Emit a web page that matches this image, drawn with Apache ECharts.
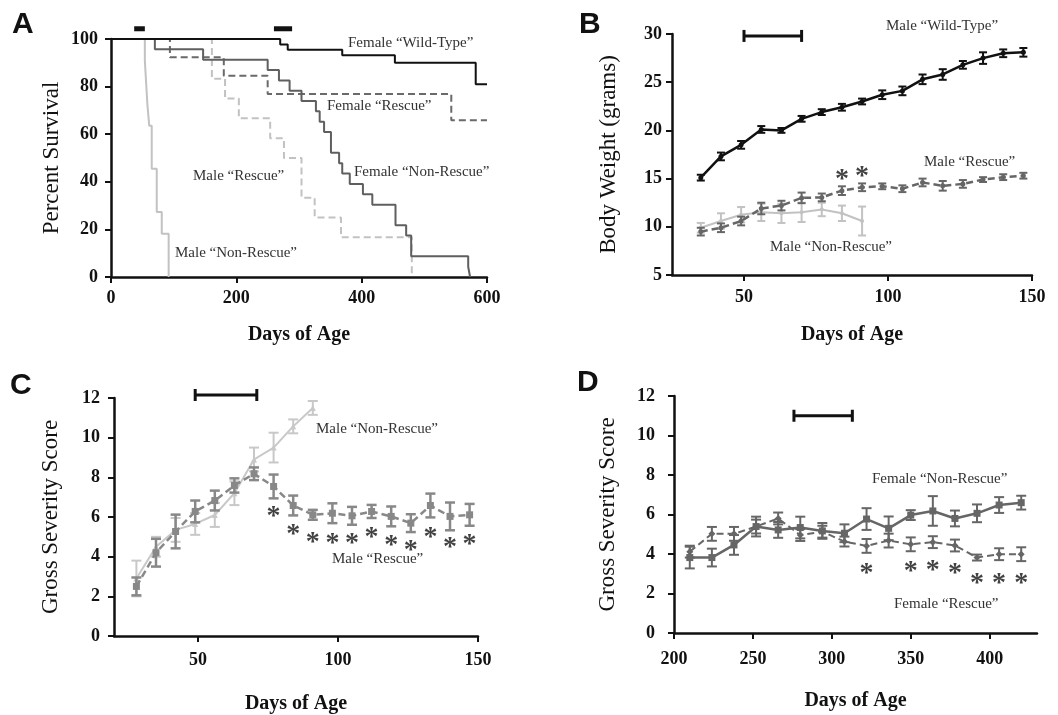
<!DOCTYPE html>
<html>
<head>
<meta charset="utf-8">
<script src="https://cdn.jsdelivr.net/npm/echarts@6/dist/echarts.min.js"></script>
<style>
  html, body { margin: 0; background: #fff; }
  #chart { width: 1058px; height: 715px; }
</style>
</head>
<body>
<div id="chart"></div>
<script>
// ---- Panel A: survival (day of each drop, percent surviving after it) ----
const femaleWtDays = [0, 270, 282, 369, 453, 582, 600]
const femaleWtPct = [100, 97.7, 95.5, 93.2, 90.0, 81.0, 81.0]
const femaleRescueDays = [0, 94, 180, 250, 543, 600]
const femaleRescuePct = [100, 92.3, 84.6, 76.9, 65.9, 65.9]
const femaleNonRescueDays = [0, 70, 147, 250, 268, 285, 304, 327, 333, 340, 351, 364, 369, 381, 402, 417, 454, 471, 479, 570, 573]
const femaleNonRescuePct = [100, 95.65, 91.3, 86.96, 82.6, 78.26, 73.9, 69.6, 65.2, 60.9, 52.2, 47.8, 43.5, 39.1, 34.8, 30.4, 21.7, 17.4, 8.7, 4.3, 0]
const maleRescueDays = [0, 161, 182, 204, 254, 276, 304, 325, 367, 480]
const maleRescuePct = [100, 83.3, 75, 66.7, 58.3, 50, 33.3, 25, 16.7, 0]
const maleNonRescueDays = [0, 54, 56, 58, 61, 65, 73, 81, 92]
const maleNonRescuePct = [100, 90.9, 81.8, 72.7, 63.6, 45.5, 27.3, 18.2, 0]
const treatmentBarsA = [[37, 54, 104.3], [260, 289, 104.3]]
const ticksA = [0, 200, 400, 600]

// ---- Panel B: body weight ----
const weightDays = [35, 42, 49, 56, 63, 70, 77, 84, 91, 98, 105, 112, 119, 126, 133, 140, 147]
const wtWeight = [15.1, 17.3, 18.5, 20.1, 20.0, 21.2, 21.9, 22.4, 23.0, 23.7, 24.1, 25.3, 25.8, 26.8, 27.5, 28.0, 28.1]
const wtWeightErr = [0.3, 0.4, 0.4, 0.35, 0.25, 0.3, 0.3, 0.35, 0.3, 0.45, 0.45, 0.5, 0.55, 0.4, 0.6, 0.4, 0.45]
const rescueWeight = [9.5, 9.9, 10.6, 11.9, 12.2, 13.0, 13.05, 13.75, 14.1, 14.2, 13.95, 14.6, 14.25, 14.45, 14.9, 15.15, 15.3]
const rescueWeightErr = [0.4, 0.45, 0.45, 0.6, 0.5, 0.55, 0.4, 0.45, 0.4, 0.3, 0.35, 0.4, 0.5, 0.4, 0.25, 0.3, 0.3]
const nonRescueWeightDays = [35, 42, 49, 56, 63, 70, 77, 84, 91]
const nonRescueWeight = [9.9, 10.6, 11.25, 11.5, 11.4, 11.5, 11.8, 11.4, 10.6]
const nonRescueWeightErr = [0.5, 0.8, 0.8, 0.9, 1.0, 1.0, 0.7, 0.8, 1.5]
const starDaysB = [84, 91]
const starYB = [15.6, 15.9]
const bracketB = [[50, 70, 29.8]]
const ticksB = [50, 100, 150]

// ---- Panel C: male gross severity ----
const maleScoreDays = [28, 35, 42, 49, 56, 63, 70, 77, 84, 91, 98, 105, 112, 119, 126, 133, 140, 147]
const maleRescueScore = [2.5, 4.2, 5.27, 6.28, 6.83, 7.59, 8.18, 7.54, 6.58, 6.11, 6.19, 6.06, 6.28, 6.03, 5.69, 6.58, 6.03, 6.11]
const maleRescueScoreErr = [0.45, 0.7, 0.85, 0.55, 0.5, 0.36, 0.32, 0.6, 0.5, 0.25, 0.5, 0.45, 0.33, 0.5, 0.45, 0.6, 0.7, 0.55]
const maleNonRescueDaysC = [28, 35, 42, 49, 56, 63, 70, 77, 84, 91]
const maleNonRescueScore = [2.9, 4.5, 5.35, 5.65, 6.1, 7.2, 8.9, 9.5, 10.57, 11.5]
const maleNonRescueScoreErr = [0.9, 0.5, 0.6, 0.55, 0.6, 0.6, 0.6, 0.75, 0.35, 0.35]
const starDaysC = [77, 84, 91, 98, 105, 112, 119, 126, 133, 140, 147]
const starYC = [6.36, 5.44, 5.07, 5.01, 4.98, 5.3, 4.88, 4.63, 5.3, 4.8, 4.93]
const bracketC = [[49, 71, 12.15]]
const ticksC = [50, 100, 150]

// ---- Panel D: female gross severity ----
const femaleScoreDays = [210, 224, 238, 252, 266, 280, 294, 308, 322, 336, 350, 364, 378, 392, 406, 420]
const femaleNonRescueScore = [3.82, 3.82, 4.46, 5.39, 5.22, 5.34, 5.17, 5.05, 5.77, 5.3, 5.97, 6.18, 5.8, 6.06, 6.48, 6.6]
const femaleNonRescueScoreErr = [0.55, 0.45, 0.5, 0.5, 0.4, 0.55, 0.4, 0.45, 0.55, 0.6, 0.25, 0.75, 0.4, 0.45, 0.4, 0.35]
const femaleRescueScore = [4.12, 5.02, 5.02, 5.39, 5.8, 4.96, 5.13, 4.63, 4.41, 4.68, 4.49, 4.6, 4.43, 3.82, 3.99, 3.99]
const femaleRescueScoreErr = [0.3, 0.35, 0.35, 0.35, 0.3, 0.3, 0.3, 0.25, 0.35, 0.35, 0.35, 0.3, 0.3, 0.15, 0.3, 0.35]
const starDaysD = [322, 350, 364, 378, 392, 406, 420]
const starYD = [3.37, 3.45, 3.5, 3.37, 2.86, 2.83, 2.86]
const bracketD = [[276, 313, 11.0]]
const ticksD = [200, 250, 300, 350, 400]

const SERIF = '"Liberation Serif", "DejaVu Serif", serif'
const SANS = '"Liberation Sans", Arial, sans-serif'
const BLACK = '#111'
const DARK = '#5f5f5f'
const LIGHT = '#c2c2c2'

const zip = (xs, ys) => xs.map((x, i) => [x, ys[i]])
const spans = (xs, ys, es) => xs.map((x, i) => [x, ys[i] - es[i], ys[i] + es[i]])

const valueAxis = (idx, min, max, interval, ticks, labelMargin, name, nameGap) => ({
  type: 'value',
  gridIndex: idx,
  min,
  max,
  interval,
  name,
  nameLocation: 'middle',
  nameGap,
  nameTextStyle: { fontFamily: SERIF, fontSize: 20, fontWeight: 'bold', color: BLACK },
  axisLine: { show: true, onZero: false, lineStyle: { color: BLACK, width: 2.5 } },
  axisTick: { show: true, length: 6, lineStyle: { color: BLACK, width: 2 }, customValues: ticks },
  axisLabel: { color: BLACK, fontFamily: SERIF, fontWeight: 'bold', fontSize: 18, margin: labelMargin, customValues: ticks },
  splitLine: { show: false }
})

const yAxisFor = (idx, min, max, interval, labelMargin, name, nameGap) => ({
  type: 'value',
  gridIndex: idx,
  min,
  max,
  interval,
  name,
  nameLocation: 'middle',
  nameRotate: 90,
  nameGap,
  nameTextStyle: { fontFamily: SERIF, fontSize: 23, color: BLACK },
  axisLine: { show: true, onZero: false, lineStyle: { color: BLACK, width: 2.5 } },
  axisTick: { show: true, length: 6, lineStyle: { color: BLACK, width: 2 } },
  axisLabel: { color: BLACK, fontFamily: SERIF, fontWeight: 'bold', fontSize: 18, margin: labelMargin },
  splitLine: { show: false }
})

const line = (idx, data, color, opts = {}) => ({
  type: 'line',
  xAxisIndex: idx,
  yAxisIndex: idx,
  data,
  step: opts.step || false,
  color,
  lineStyle: { color, width: opts.width || 2, type: opts.dash ? [7, 4] : 'solid' },
  symbol: opts.symbol || 'none',
  symbolSize: opts.size || 6,
  showSymbol: !!opts.symbol,
  itemStyle: { color },
  z: opts.z || 3,
  silent: true
})

// vertical error bars with short caps
const errorBars = (idx, data, color, cap = 4, width = 2, z = 3) => ({
  type: 'custom',
  xAxisIndex: idx,
  yAxisIndex: idx,
  data,
  encode: { x: 0, y: [1, 2] },
  z,
  silent: true,
  renderItem: (params, api) => {
    const x = api.value(0)
    const lo = api.coord([x, api.value(1)])
    const hi = api.coord([x, api.value(2)])
    const style = { stroke: color, lineWidth: width }
    return {
      type: 'group',
      children: [
        { type: 'line', shape: { x1: lo[0], y1: lo[1], x2: hi[0], y2: hi[1] }, style },
        { type: 'line', shape: { x1: lo[0] - cap, y1: lo[1], x2: lo[0] + cap, y2: lo[1] }, style },
        { type: 'line', shape: { x1: hi[0] - cap, y1: hi[1], x2: hi[0] + cap, y2: hi[1] }, style }
      ]
    }
  }
})

// treatment-window brackets (horizontal bar, optional end caps)
const brackets = (idx, data, cap, width) => ({
  type: 'custom',
  xAxisIndex: idx,
  yAxisIndex: idx,
  data,
  clip: false,
  silent: true,
  z: 5,
  renderItem: (params, api) => {
    const a = api.coord([api.value(0), api.value(2)])
    const b = api.coord([api.value(1), api.value(2)])
    const style = { stroke: BLACK, lineWidth: width }
    const children = [{ type: 'line', shape: { x1: a[0], y1: a[1], x2: b[0], y2: b[1] }, style }]
    if (cap) {
      children.push({ type: 'line', shape: { x1: a[0], y1: a[1] - cap, x2: a[0], y2: a[1] + cap }, style })
      children.push({ type: 'line', shape: { x1: b[0], y1: b[1] - cap, x2: b[0], y2: b[1] + cap }, style })
    }
    return { type: 'group', children }
  }
})

const stars = (idx, xs, ys) => ({
  type: 'scatter',
  xAxisIndex: idx,
  yAxisIndex: idx,
  data: zip(xs, ys),
  symbolSize: 1,
  itemStyle: { color: 'rgba(0,0,0,0)' },
  silent: true,
  z: 6,
  label: {
    show: true,
    position: 'inside',
    formatter: '*',
    color: BLACK,
    fontFamily: SERIF,
    fontWeight: 'bold',
    fontSize: 28,
    offset: [0, 7]
  }
})

const note = (x, y, text, color = '#333') => ({
  type: 'text',
  x,
  y,
  silent: true,
  style: { text, fill: color, font: '15px ' + SERIF, textAlign: 'left', textVerticalAlign: 'middle' }
})

const letter = (x, y, text) => ({
  type: 'text',
  x,
  y,
  silent: true,
  style: { text, fill: BLACK, font: 'bold 30px ' + SANS, textAlign: 'left', textVerticalAlign: 'top' }
})

const option = {
  animation: false,
  backgroundColor: '#fff',
  grid: [
    { left: 111, top: 39, width: 376, height: 238 },
    { left: 672, top: 34, width: 360, height: 241 },
    { left: 114, top: 398, width: 364, height: 238 },
    { left: 674, top: 396, width: 363, height: 237 }
  ],
  xAxis: [
    valueAxis(0, 0, 600, 200, ticksA, 12, 'Days of Age', 48),
    valueAxis(1, 25, 150, 25, ticksB, 13, 'Days of Age', 50),
    valueAxis(2, 20, 150, 10, ticksC, 15, 'Days of Age', 58),
    valueAxis(3, 200, 430, 10, ticksD, 17, 'Days of Age', 58)
  ],
  yAxis: [
    yAxisFor(0, 0, 100, 20, 13, 'Percent Survival', 48),
    yAxisFor(1, 5, 30, 5, 10, 'Body Weight (grams)', 52),
    yAxisFor(2, 0, 12, 2, 14, 'Gross Severity Score', 52),
    yAxisFor(3, 0, 12, 2, 19, 'Gross Severity Score', 55)
  ],
  series: [
    // A
    line(0, zip(maleNonRescueDays, maleNonRescuePct), LIGHT, { step: 'end', z: 2 }),
    line(0, zip(maleRescueDays, maleRescuePct), LIGHT, { step: 'end', dash: true, z: 2 }),
    line(0, zip(femaleRescueDays, femaleRescuePct), '#6a6a6a', { step: 'end', dash: true, z: 3 }),
    line(0, zip(femaleNonRescueDays, femaleNonRescuePct), DARK, { step: 'end', z: 3 }),
    line(0, zip(femaleWtDays, femaleWtPct), BLACK, { step: 'end', z: 4 }),
    brackets(0, treatmentBarsA, 0, 5),
    // B
    errorBars(1, spans(nonRescueWeightDays, nonRescueWeight, nonRescueWeightErr), LIGHT, 4, 2, 2),
    line(1, zip(nonRescueWeightDays, nonRescueWeight), LIGHT, { z: 2, symbol: 'circle', size: 4 }),
    errorBars(1, spans(weightDays, rescueWeight, rescueWeightErr), '#666', 4, 2, 3),
    line(1, zip(weightDays, rescueWeight), '#666', { dash: true, width: 2.5, z: 3, symbol: 'circle', size: 5 }),
    errorBars(1, spans(weightDays, wtWeight, wtWeightErr), BLACK, 4, 2, 4),
    line(1, zip(weightDays, wtWeight), BLACK, { width: 2.5, z: 4, symbol: 'circle', size: 5 }),
    stars(1, starDaysB, starYB),
    brackets(1, bracketB, 6, 3),
    // C
    errorBars(2, spans(maleNonRescueDaysC, maleNonRescueScore, maleNonRescueScoreErr), '#c8c8c8', 5, 2, 2),
    line(2, zip(maleNonRescueDaysC, maleNonRescueScore), '#c8c8c8', { width: 2, z: 2, symbol: 'triangle', size: 6 }),
    errorBars(2, spans(maleScoreDays, maleRescueScore, maleRescueScoreErr), '#888', 5, 2.5, 3),
    line(2, zip(maleScoreDays, maleRescueScore), '#888', { dash: true, width: 2.5, z: 3, symbol: 'rect', size: 7 }),
    stars(2, starDaysC, starYC),
    brackets(2, bracketC, 6, 3),
    // D
    errorBars(3, spans(femaleScoreDays, femaleRescueScore, femaleRescueScoreErr), '#666', 5, 2, 3),
    line(3, zip(femaleScoreDays, femaleRescueScore), '#666', { dash: true, width: 2, z: 3, symbol: 'diamond', size: 7 }),
    errorBars(3, spans(femaleScoreDays, femaleNonRescueScore, femaleNonRescueScoreErr), '#666', 5, 2, 3),
    line(3, zip(femaleScoreDays, femaleNonRescueScore), '#666', { width: 2.5, z: 3, symbol: 'rect', size: 7 }),
    stars(3, starDaysD, starYD),
    brackets(3, bracketD, 6, 3)
  ],
  graphic: [
    letter(12, 10, 'A'),
    letter(579, 10, 'B'),
    letter(10, 371, 'C'),
    letter(577, 368, 'D'),
    note(348, 43, 'Female \u201cWild-Type\u201d'),
    note(327, 106, 'Female \u201cRescue\u201d'),
    note(354, 172, 'Female \u201cNon-Rescue\u201d'),
    note(193, 176, 'Male \u201cRescue\u201d'),
    note(175, 253, 'Male \u201cNon-Rescue\u201d'),
    note(886, 26, 'Male \u201cWild-Type\u201d'),
    note(924, 162, 'Male \u201cRescue\u201d'),
    note(770, 247, 'Male \u201cNon-Rescue\u201d'),
    note(316, 429, 'Male \u201cNon-Rescue\u201d'),
    note(332, 559, 'Male \u201cRescue\u201d'),
    note(872, 479, 'Female \u201cNon-Rescue\u201d'),
    note(894, 604, 'Female \u201cRescue\u201d')
  ]
}

const chart = echarts.init(document.getElementById('chart'))
chart.setOption(option)
</script>
</body>
</html>
